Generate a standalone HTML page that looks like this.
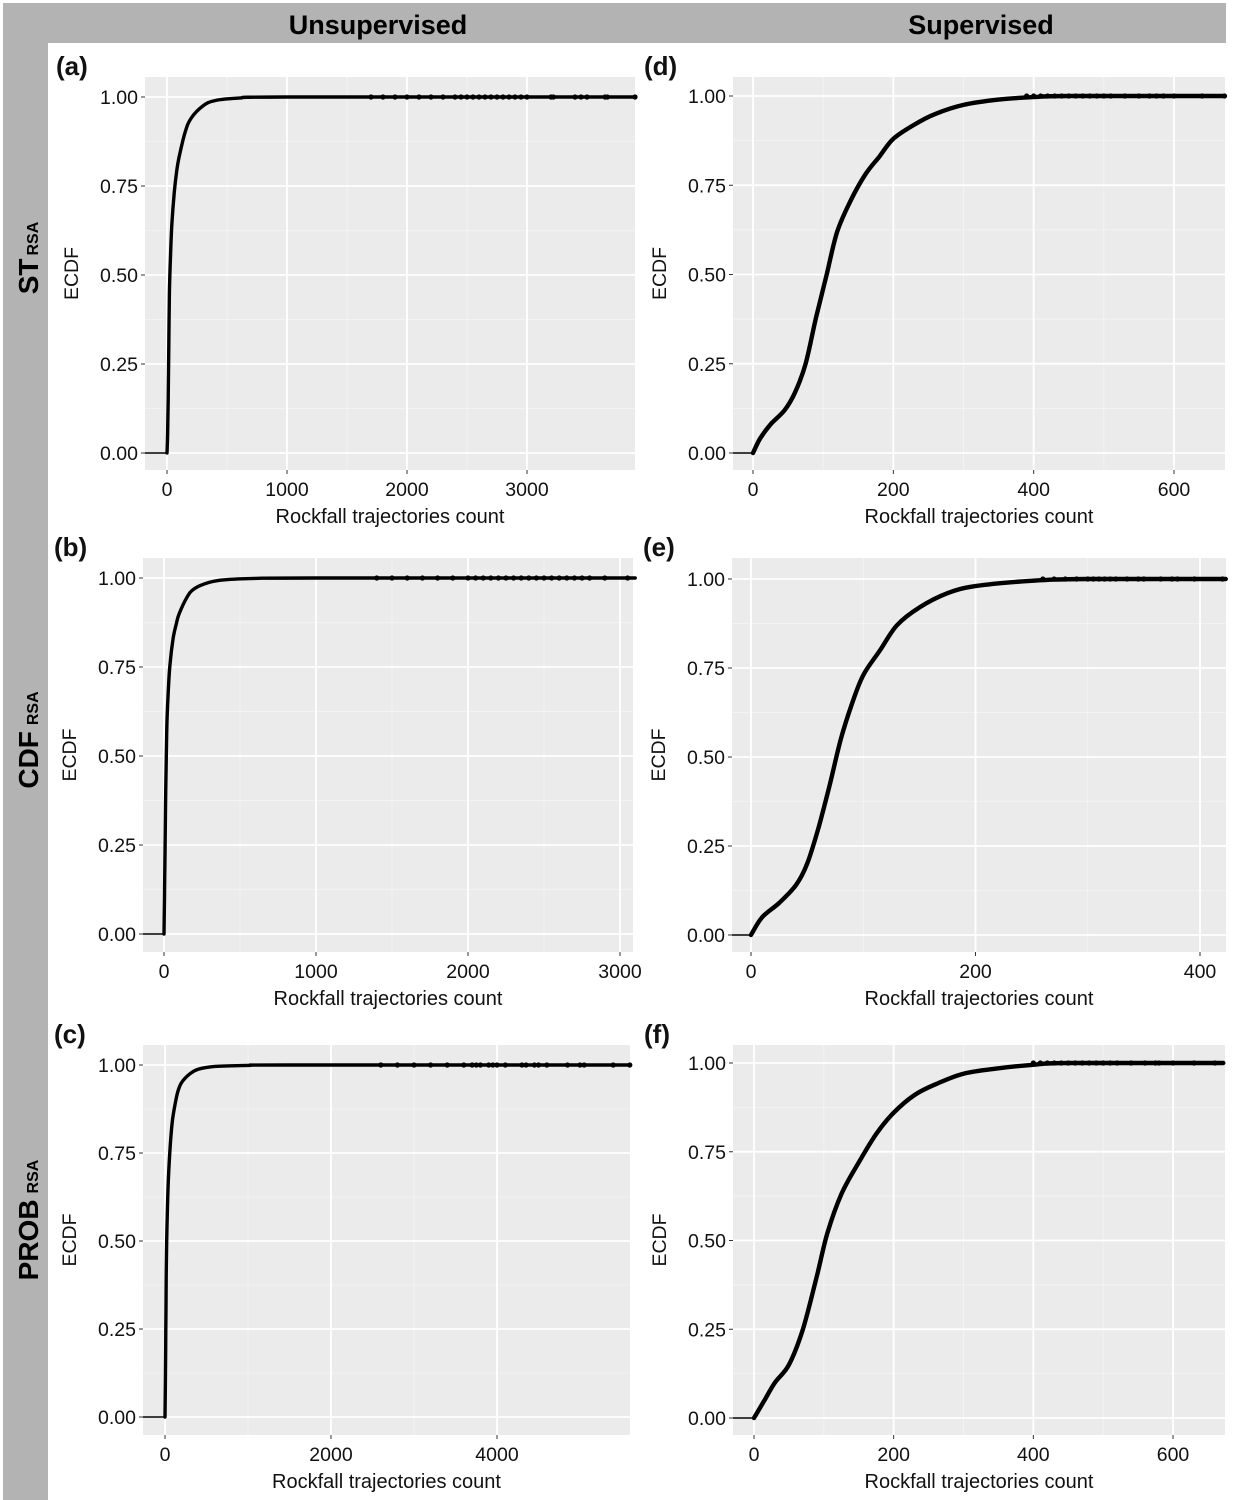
<!DOCTYPE html>
<html><head><meta charset="utf-8">
<style>
html,body{margin:0;padding:0;background:#fff;}
svg{display:block;font-family:"Liberation Sans",Arial,sans-serif;}
</style></head>
<body>
<svg id="fig" width="1241" height="1500" viewBox="0 0 1241 1500" xmlns="http://www.w3.org/2000/svg">
  <rect x="0" y="0" width="1241" height="1500" fill="#ffffff"/>
  <rect x="3" y="3" width="1223" height="40" fill="#b3b3b3"/>
  <rect x="3" y="3" width="45" height="1497" fill="#b3b3b3"/>
  <text x="378" y="34" font-size="27" font-weight="bold" text-anchor="middle">Unsupervised</text>
  <text x="981" y="34" font-size="27" font-weight="bold" text-anchor="middle">Supervised</text>
  <text transform="translate(38,258) rotate(-90)" font-size="28" font-weight="bold" text-anchor="middle">ST<tspan font-size="16" dx="3">RSA</tspan></text>
  <text transform="translate(38,740) rotate(-90)" font-size="28" font-weight="bold" text-anchor="middle">CDF<tspan font-size="16" dx="6">RSA</tspan></text>
  <text transform="translate(38,1220) rotate(-90)" font-size="28" font-weight="bold" text-anchor="middle">PROB<tspan font-size="16" dx="6">RSA</tspan></text>
  <g id="panels"></g>
</svg>
<script>
// Panel (a) data
const aCurveX = [0,5,10,15,20,30,40,60,80,100,150,200,300,400,600,1000,3900];
const aCurveY = [0,0.05,0.15,0.3,0.45,0.56,0.64,0.73,0.79,0.83,0.9,0.94,0.975,0.99,0.997,1,1];
const aTail = [1700,1800,1900,2000,2100,2200,2300,2400,2450,2500,2550,2600,2650,2700,2750,2800,2850,2900,2950,3000,3200,3220,3400,3450,3500,3650,3670,3900];
const aXTicks = [0,1000,2000,3000];
// Panel (b) data
const bCurveX = [0,3,6,10,15,20,30,40,60,80,100,150,200,300,400,600,1000,3100];
const bCurveY = [0,0.1,0.2,0.35,0.5,0.6,0.7,0.76,0.83,0.87,0.9,0.945,0.97,0.988,0.995,0.999,1,1];
const bTail = [1400,1500,1600,1700,1800,1900,2000,2050,2100,2150,2200,2250,2300,2350,2400,2450,2500,2550,2600,2650,2700,2750,2800,2900,3050];
const bXTicks = [0,1000,2000,3000];
// Panel (c) data
const cCurveX = [0,5,10,15,20,30,40,60,80,100,150,200,300,400,600,1000,1500,5600];
const cCurveY = [0,0.1,0.25,0.4,0.5,0.6,0.67,0.76,0.82,0.86,0.92,0.95,0.975,0.988,0.996,0.999,1,1];
const cTail = [2600,2800,3000,3200,3400,3600,3700,3750,3800,3900,3950,4000,4100,4300,4350,4450,4500,4600,4850,5000,5050,5400,5600];
const cXTicks = [0,2000,4000];
// Panel (d) data
const dCurveX = [0,10,25,45,60,75,90,105,120,140,160,180,200,230,260,300,350,400,450,672];
const dCurveY = [0,0.04,0.08,0.12,0.17,0.25,0.38,0.5,0.62,0.71,0.78,0.83,0.88,0.92,0.95,0.975,0.99,0.997,1,1];
const dTail = [390,400,410,420,430,440,450,460,470,480,490,500,510,530,550,565,575,585,600,640,672];
const dXTicks = [0,200,400,600];
// Panel (e) data
const eCurveX = [0,10,25,40,50,60,70,80,90,100,115,130,150,175,200,250,300,423];
const eCurveY = [0,0.05,0.09,0.14,0.2,0.3,0.42,0.55,0.65,0.73,0.8,0.87,0.92,0.96,0.98,0.995,1,1];
const eTail = [260,270,280,290,300,305,310,315,320,325,335,345,350,365,375,380,395,420];
const eXTicks = [0,200,400];
// Panel (f) data
const fCurveX = [0,15,30,50,70,90,105,125,150,175,200,230,260,300,350,400,450,672];
const fCurveY = [0,0.05,0.1,0.15,0.25,0.4,0.52,0.63,0.72,0.8,0.86,0.91,0.94,0.97,0.985,0.995,1,1];
const fTail = [400,410,420,430,440,450,460,470,480,490,500,510,520,540,560,575,580,600,630,660];
const fXTicks = [0,200,400,600];
const yTicks = [0,0.25,0.5,0.75,1];
const yTickLabels = ["0.00","0.25","0.50","0.75","1.00"];

const NS = "http://www.w3.org/2000/svg";
const root = document.getElementById('panels');
function mk(tag, attrs, parent){
  const e = document.createElementNS(NS, tag);
  for (const k in attrs) e.setAttribute(k, attrs[k]);
  (parent||root).appendChild(e);
  return e;
}
function smoothPath(pts){
  let d = 'M' + pts[0][0].toFixed(1) + ',' + pts[0][1].toFixed(1);
  for (let i = 0; i < pts.length - 1; i++) {
    const p0 = pts[Math.max(0, i-1)], p1 = pts[i], p2 = pts[i+1], p3 = pts[Math.min(pts.length-1, i+2)];
    const t = 6;
    let c1x = p1[0] + (p2[0]-p0[0])/t, c1y = p1[1] + (p2[1]-p0[1])/t;
    let c2x = p2[0] - (p3[0]-p1[0])/t, c2y = p2[1] - (p3[1]-p1[1])/t;
    const ylo = Math.min(p1[1],p2[1]), yhi = Math.max(p1[1],p2[1]);
    c1y = Math.min(Math.max(c1y,ylo),yhi); c2y = Math.min(Math.max(c2y,ylo),yhi);
    d += 'C' + c1x.toFixed(1) + ',' + c1y.toFixed(1) + ' ' + c2x.toFixed(1) + ',' + c2y.toFixed(1) + ' ' + p2[0].toFixed(1) + ',' + p2[1].toFixed(1);
  }
  return d;
}
function drawPanel(p){
  const g = mk('g', {});
  
  
  const sx = v => p.x0 + (v - p.dmin) / (p.dmax - p.dmin) * (p.x1 - p.x0);
  const sy = v => p.y0 + (1 - v) * (p.y1 - p.y0);
  const bg = mk('rect', {x:p.bx0, y:p.by0, width:p.bx1-p.bx0, height:p.by1-p.by0, fill:'#ebebeb'}, g);
  
  
  for (let i = 0; i < yTicks.length - 1; i++) {
    const yy = sy((yTicks[i] + yTicks[i+1]) / 2);
    const l = mk('line', {x1:p.bx0, x2:p.bx1, y1:yy, y2:yy, stroke:'#f5f5f5', 'stroke-width':0.8}, g);
    
    
  }
  const step = p.ticks[1] - p.ticks[0];
  for (let v = p.ticks[0] - step/2; v <= p.dmax; v += step) {
    if (v < p.dmin) continue;
    const xx = sx(v);
    const l = mk('line', {x1:xx, x2:xx, y1:p.by0, y2:p.by1, stroke:'#f5f5f5', 'stroke-width':0.8}, g);
    
    
  }
  yTicks.forEach((t, i) => {
    const yy = sy(t);
    const l = mk('line', {x1:p.bx0, x2:p.bx1, y1:yy, y2:yy, stroke:'#ffffff', 'stroke-width':1.8}, g);
    
    
    const tk = mk('line', {x1:p.bx0-4, x2:p.bx0, y1:yy, y2:yy, stroke:'#333', 'stroke-width':1}, g);
    
    
    const tx = mk('text', {x:p.bx0-7, y:yy+7, 'font-size':19.5, 'text-anchor':'end', fill:'#111'}, g);
    tx.textContent = yTickLabels[i];
    
    
  });
  p.ticks.forEach(t => {
    const xx = sx(t);
    const l = mk('line', {x1:xx, x2:xx, y1:p.by0, y2:p.by1, stroke:'#ffffff', 'stroke-width':1.8}, g);
    
    
    const tk = mk('line', {x1:xx, x2:xx, y1:p.by1, y2:p.by1+4, stroke:'#333', 'stroke-width':1}, g);
    
    
    const tx = mk('text', {x:xx, y:p.by1+26, 'font-size':19.5, 'text-anchor':'middle', fill:'#111'}, g);
    tx.textContent = String(t);
    
    
  });
  const z = mk('line', {x1:p.bx0, x2:sx(0), y1:sy(0), y2:sy(0), stroke:'#000', 'stroke-width':1.5}, g);
  
  
  const pts = p.cx.map((v, i) => [sx(v), sy(p.cy[i])]);
  const c = mk('path', {d:smoothPath(pts), fill:'none', stroke:'#000', 'stroke-width':p.sw, 'stroke-linejoin':'round', 'stroke-linecap':'round'}, g);
  
  
  const top = mk('line', {x1:sx(p.cx[p.cx.length-1]), x2:p.bx1, y1:sy(1), y2:sy(1), stroke:'#000', 'stroke-width':1.5}, g);
  
  
  p.tail.forEach(v => {
    const ci = mk('circle', {cx:sx(v), cy:sy(1), r:2.6, fill:'#000'}, g);
    
    
  });
  const yl = mk('text', {transform:'translate(' + (p.bx0-67) + ',' + ((p.by0+p.by1)/2) + ') rotate(-90)', 'font-size':19.5, 'text-anchor':'middle', fill:'#111'}, g);
  yl.textContent = 'ECDF';
  
  
  const xl = mk('text', {x:(p.bx0+p.bx1)/2, y:p.by1+53, 'font-size':20, 'text-anchor':'middle', fill:'#111'}, g);
  xl.textContent = 'Rockfall trajectories count';
  
  
  const tag = mk('text', {x:p.bx0-89, y:p.by0-2, 'font-size':26, 'font-weight':'bold', fill:'#111'}, g);
  tag.textContent = '(' + p.id + ')';
  
  
}
const U = 3.4, S = 4.4;
drawPanel({id:'a', bx0:145,bx1:635,by0:77,by1:470, x0:167,x1:527,dmin:0,dmax:3000, y0:97,y1:453, ticks:aXTicks, cx:aCurveX, cy:aCurveY, tail:aTail, sw:U});
drawPanel({id:'b', bx0:143,bx1:633,by0:558,by1:952, x0:164,x1:620,dmin:0,dmax:3000, y0:578,y1:934, ticks:bXTicks, cx:bCurveX, cy:bCurveY, tail:bTail, sw:U});
drawPanel({id:'c', bx0:143,bx1:630,by0:1045,by1:1435, x0:165,x1:497,dmin:0,dmax:4000, y0:1065,y1:1417, ticks:cXTicks, cx:cCurveX, cy:cCurveY, tail:cTail, sw:U});
drawPanel({id:'d', bx0:733,bx1:1225,by0:77,by1:470, x0:753,x1:1174,dmin:0,dmax:600, y0:96,y1:453, ticks:dXTicks, cx:dCurveX, cy:dCurveY, tail:dTail, sw:S});
drawPanel({id:'e', bx0:732,bx1:1226,by0:558,by1:952, x0:751,x1:1200,dmin:0,dmax:400, y0:579,y1:935, ticks:eXTicks, cx:eCurveX, cy:eCurveY, tail:eTail, sw:S});
drawPanel({id:'f', bx0:733,bx1:1225,by0:1045,by1:1435, x0:754,x1:1173,dmin:0,dmax:600, y0:1063,y1:1418, ticks:fXTicks, cx:fCurveX, cy:fCurveY, tail:fTail, sw:S});
</script>
</body></html>
